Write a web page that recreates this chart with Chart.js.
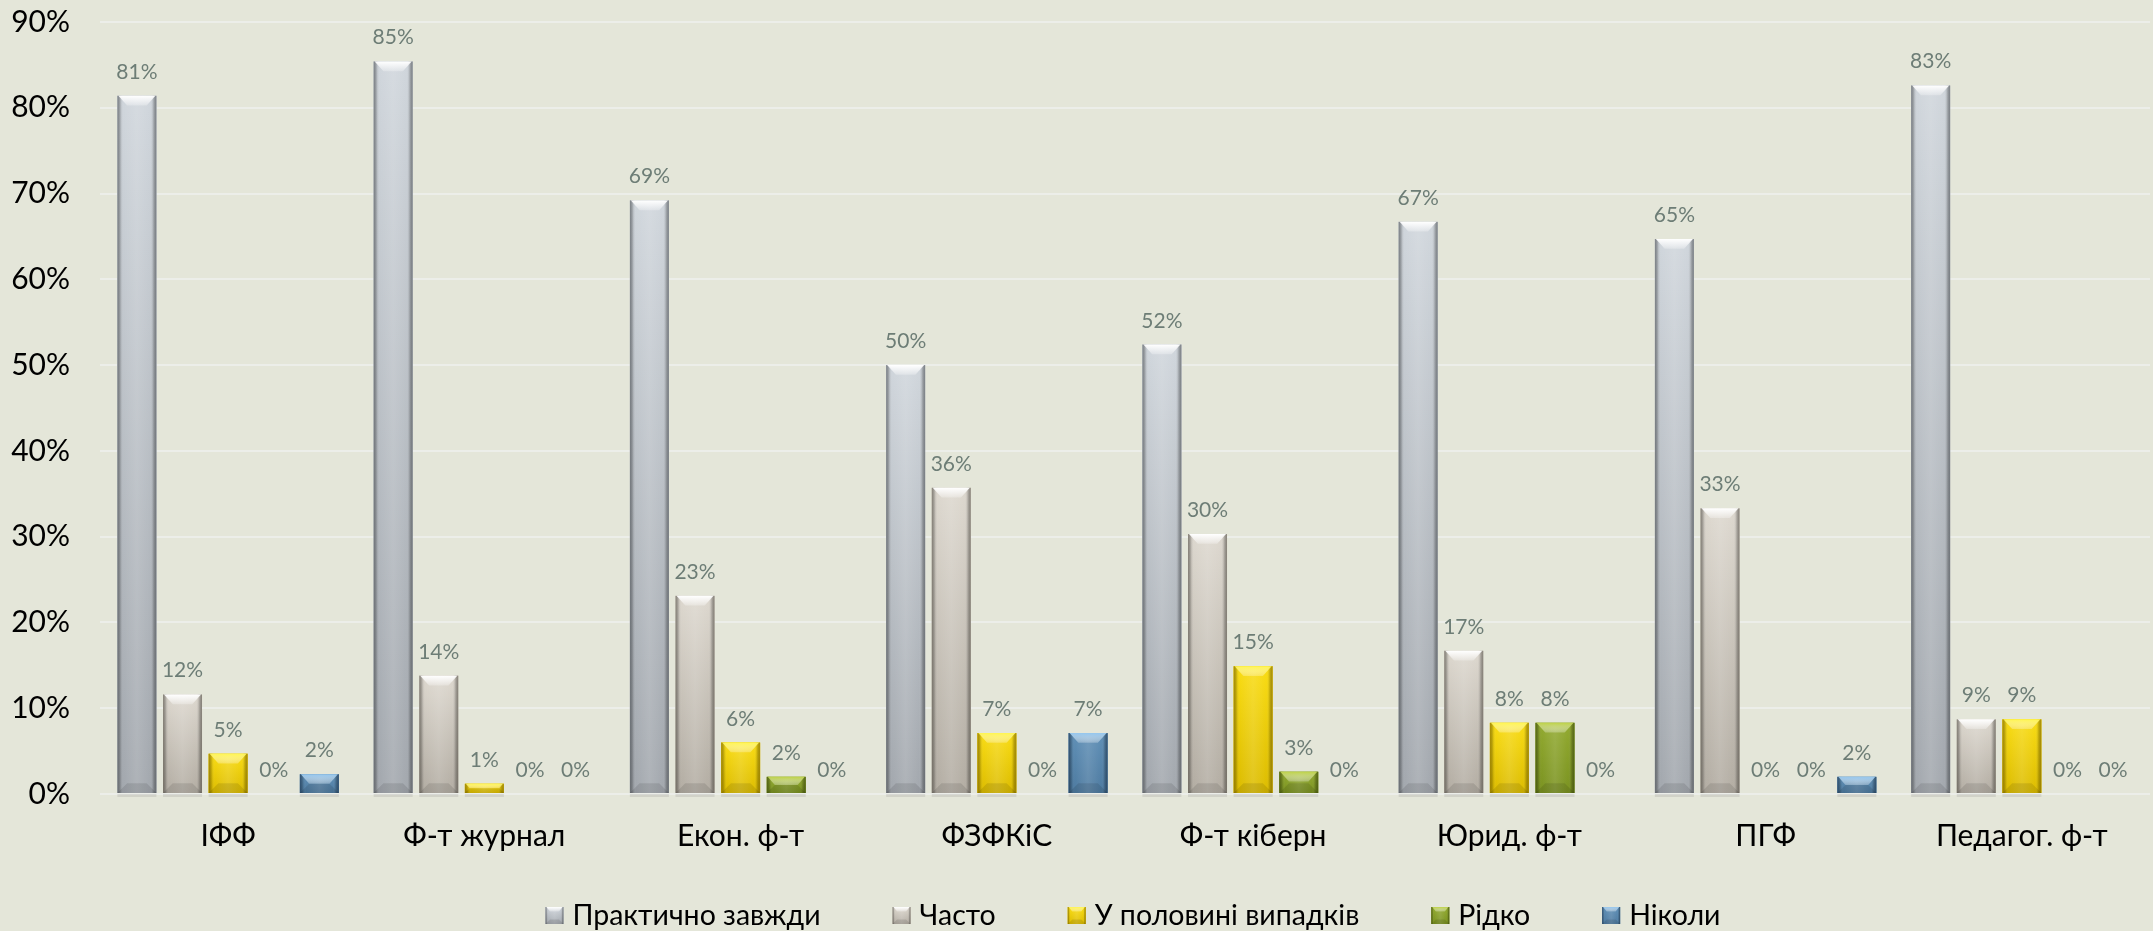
<!DOCTYPE html>
<html>
<head>
<meta charset="utf-8">
<script src="https://cdn.jsdelivr.net/npm/chart.js@4/dist/chart.umd.min.js"></script>
<style>
  html, body { margin:0; padding:0; background:#e4e6d9; }
  #c { display:block; }
</style>
</head>
<body>
<canvas id="c" width="2153" height="931"></canvas>
<script>
// ---- data ----
const categories = ['ІФФ', 'Ф-т журнал', 'Екон. ф-т', 'ФЗФКіС', 'Ф-т кіберн', 'Юрид. ф-т', 'ПГФ', 'Педагог. ф-т'];
const seriesNames = ['Практично завжди', 'Часто', 'У половині випадків', 'Рідко', 'Ніколи'];
const practicallyAlways = [81.4, 85.4, 69.2, 50.0, 52.4, 66.7, 64.7, 82.6];
const often            = [11.6, 13.8, 23.1, 35.7, 30.3, 16.7, 33.3, 8.7];
const halfOfCases      = [4.7, 1.2, 6.0, 7.1, 14.9, 8.3, 0, 8.7];
const rarely           = [0, 0, 2.0, 0, 2.6, 8.3, 0, 0];
const never            = [2.3, 0, 0, 7.1, 0, 0, 2.0, 0];
const yTicks = [0, 10, 20, 30, 40, 50, 60, 70, 80, 90];

const seriesValues = [practicallyAlways, often, halfOfCases, rarely, never];

// ---- styles ----
const styles = [
  { flat:'#bfc4ca', top:'#d0d6dc', bottom:'#a3a8ae', bevel:'#ffffff', edge:'rgba(70,75,80,0.6)' },
  { flat:'#cdc8be', top:'#ddd8cf', bottom:'#b3ada3', bevel:'#ffffff', edge:'rgba(80,75,65,0.6)' },
  { flat:'#ecca00', top:'#f9dc14', bottom:'#dcbc00', bevel:'#fff550', edge:'rgba(120,95,0,0.6)' },
  { flat:'#8aa22a', top:'#92aa30', bottom:'#7a9220', bevel:'#bdd245', edge:'rgba(50,65,5,0.6)' },
  { flat:'#5887ae', top:'#5f8fb6', bottom:'#4d7aa0', bevel:'#94c6ee', edge:'rgba(20,45,75,0.6)' }
];
const FONT = 'Lato';

function drawBar(ctx, l, t, w, h, st) {
  if (h < 0.5 || w < 1) return;
  const r = l + w, b = t + h;
  let g = ctx.createLinearGradient(0, t, 0, b);
  g.addColorStop(0, st.top);
  g.addColorStop(1, st.bottom);
  ctx.fillStyle = g;
  ctx.fillRect(l, t, w, h);
  g = ctx.createLinearGradient(l, 0, r, 0);
  g.addColorStop(0, st.edge);
  g.addColorStop(0.09, 'rgba(0,0,0,0.10)');
  g.addColorStop(0.16, 'rgba(255,255,255,0.0)');
  g.addColorStop(0.5, 'rgba(255,255,255,0.12)');
  g.addColorStop(0.84, 'rgba(255,255,255,0.0)');
  g.addColorStop(0.91, 'rgba(0,0,0,0.12)');
  g.addColorStop(1, st.edge);
  ctx.fillStyle = g;
  ctx.fillRect(l, t, w, h);
  const d = Math.min(11, h / 2, w / 4);
  g = ctx.createLinearGradient(0, t, 0, t + d);
  g.addColorStop(0, st.bevel);
  g.addColorStop(1, 'rgba(255,255,255,0.25)');
  ctx.beginPath();
  ctx.moveTo(l + 1, t); ctx.lineTo(r - 1, t); ctx.lineTo(r - d, t + d); ctx.lineTo(l + d, t + d); ctx.closePath();
  ctx.fillStyle = g; ctx.fill();
  ctx.beginPath();
  ctx.moveTo(l + d, b - d); ctx.lineTo(r - d, b - d); ctx.lineTo(r, b); ctx.lineTo(l, b); ctx.closePath();
  ctx.fillStyle = 'rgba(0,0,0,0.10)'; ctx.fill();
}

const bevelPlugin = {
  id: 'bevel',
  afterDatasetsDraw(chart) {
    const ctx = chart.ctx;
    ctx.save();
    chart.data.datasets.forEach((ds, di) => {
      const meta = chart.getDatasetMeta(di);
      meta.data.forEach(el => {
        const p = el.getProps(['x', 'y', 'base', 'width'], true);
        const l = p.x - p.width / 2, t = Math.min(p.y, p.base), h = Math.abs(p.base - p.y);
        if (h >= 0.5) {
          ctx.fillStyle = 'rgba(150,150,150,0.25)';
          ctx.fillRect(l, p.base + 1, p.width, 3);
        }
        drawBar(ctx, l, t, p.width, h, styles[di]);
      });
    });
    ctx.restore();
  }
};

const labelPlugin = {
  id: 'valueLabels',
  afterDatasetsDraw(chart) {
    const ctx = chart.ctx;
    ctx.save();
    ctx.font = '21px ' + FONT;
    ctx.fillStyle = '#6d7d76';
    ctx.textAlign = 'center';
    ctx.textBaseline = 'alphabetic';
    chart.data.datasets.forEach((ds, di) => {
      const meta = chart.getDatasetMeta(di);
      meta.data.forEach((el, i) => {
        const p = el.getProps(['x', 'y'], true);
        ctx.fillText(Math.round(ds.data[i]) + '%', p.x, p.y - 17);
      });
    });
    ctx.restore();
  }
};

const legendPlugin = {
  id: 'customLegend',
  afterDraw(chart) {
    const ctx = chart.ctx;
    ctx.save();
    ctx.font = '28.5px ' + FONT;
    const box = 18, gapText = 9, gapItem = 72;
    const widths = seriesNames.map(n => ctx.measureText(n).width);
    const total = widths.reduce((a, w) => a + box + gapText + w, 0) + gapItem * (seriesNames.length - 1);
    let x = 1133 - total / 2;
    const cy = 915;
    ctx.textBaseline = 'middle';
    ctx.textAlign = 'left';
    seriesNames.forEach((n, i) => {
      const st = styles[i];
      ctx.fillStyle = st.flat;
      ctx.fillRect(x, cy - 8, box, 17);
      drawBar(ctx, x, cy - 8, box, 17, st);
      ctx.fillStyle = '#000';
      ctx.fillText(n, x + box + gapText, cy + 1);
      x += box + gapText + widths[i] + gapItem;
    });
    ctx.restore();
  }
};

new Chart(document.getElementById('c'), {
  type: 'bar',
  data: {
    labels: categories,
    datasets: seriesNames.map((n, i) => ({
      label: n,
      data: seriesValues[i],
      backgroundColor: styles[i].flat,
      borderWidth: 0,
      categoryPercentage: 0.89,
      barPercentage: 0.855
    }))
  },
  options: {
    responsive: false,
    animation: false,
    devicePixelRatio: 1,
    layout: { padding: { top: 22, right: 3, left: 0, bottom: 0 } },
    plugins: { legend: { display: false }, tooltip: { enabled: false } },
    scales: {
      x: {
        grid: { display: false },
        border: { display: false },
        ticks: { font: { family: FONT, size: 30 }, color: '#000', padding: 16, maxRotation: 0, autoSkip: false },
        afterFit(s) { s.height = 137; }
      },
      y: {
        min: 0, max: 90,
        afterBuildTicks(s) { s.ticks = yTicks.map(v => ({ value: v })); },
        ticks: { callback: v => v + '%', font: { family: FONT, size: 30 }, color: '#000', padding: 0 },
        grid: { color: '#eceee9', lineWidth: 2, drawTicks: true, tickLength: 30, tickColor: 'rgba(0,0,0,0)' },
        border: { display: false },
        afterFit(s) { s.width = 100; }
      }
    }
  },
  plugins: [bevelPlugin, labelPlugin, legendPlugin]
});
</script>
</body>
</html>
